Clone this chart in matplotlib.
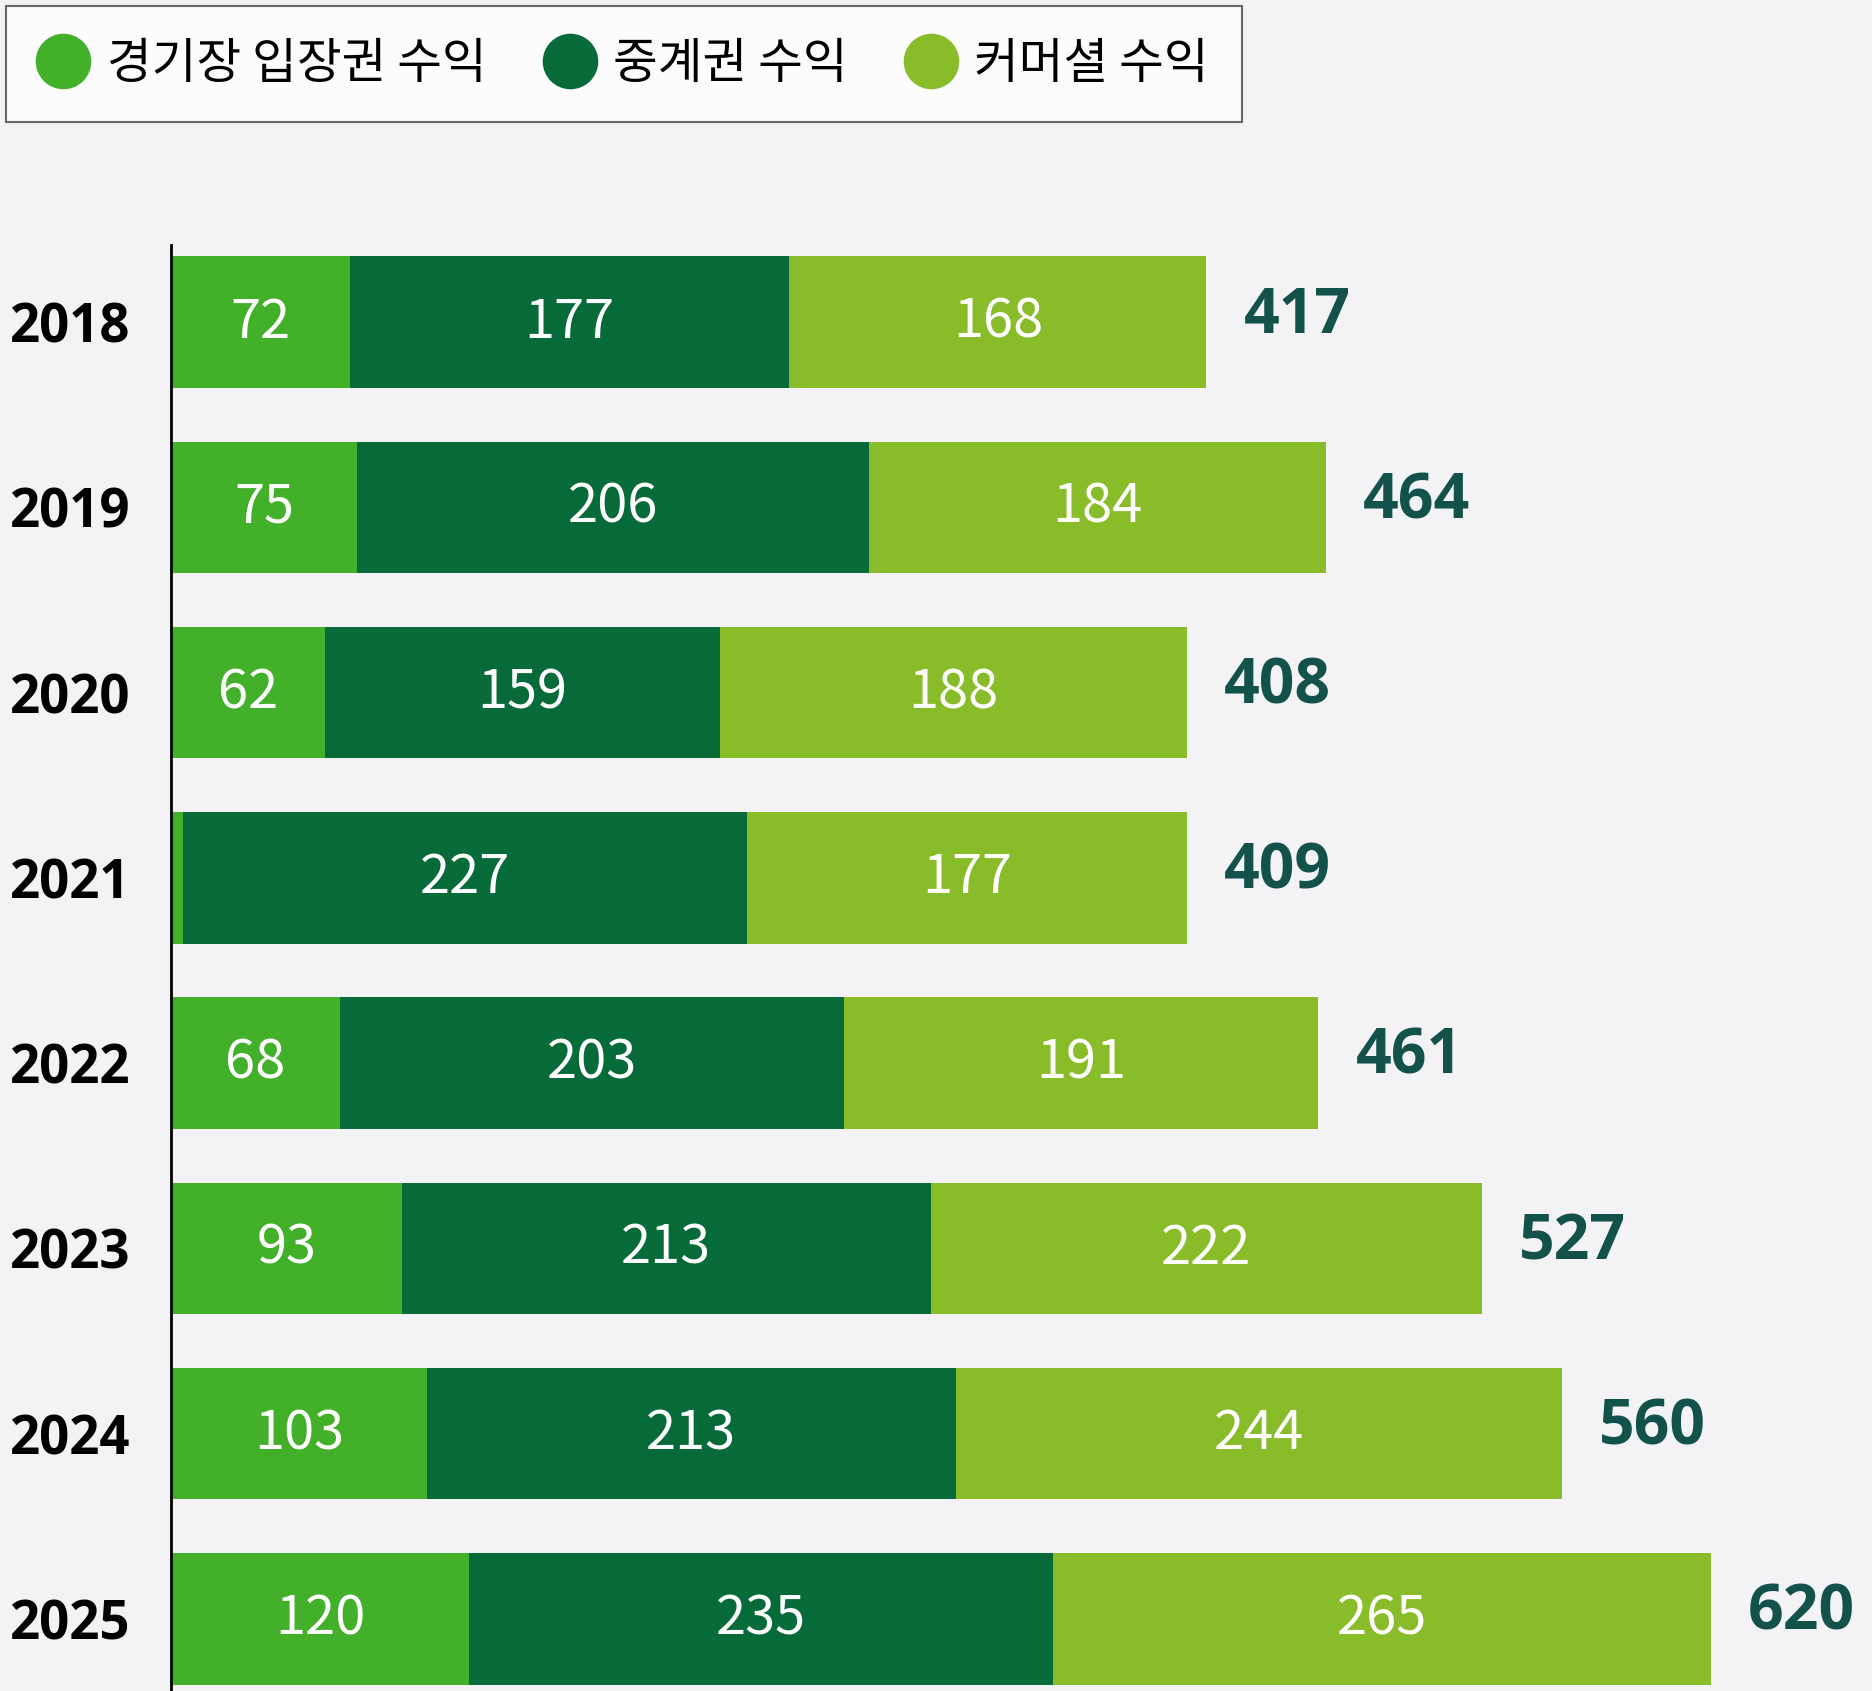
import matplotlib
matplotlib.use("Agg")
import matplotlib.pyplot as plt
from matplotlib.lines import Line2D

years = ["2018", "2019", "2020", "2021", "2022", "2023", "2024", "2025"]
stadium = [72, 75, 62, 5, 68, 93, 103, 120]
broadcast = [177, 206, 159, 227, 203, 213, 213, 235]
commercial = [168, 184, 188, 177, 191, 222, 244, 265]
totals = [417, 464, 408, 409, 461, 527, 560, 620]
series_names = ["경기장 입장권 수익", "중계권 수익", "커머셜 수익"]

colors = ["#43b02a", "#066b39", "#88bc29"]
bg = "#f3f3f5"
total_color = "#13524b"

FAM = ['Noto Sans CJK KR', 'DejaVu Sans']
NUM = ['Open Sans', 'Noto Sans CJK KR', 'DejaVu Sans']
plt.rcParams['font.family'] = FAM

W, H = 1872, 1691
fig = plt.figure(figsize=(W / 100, H / 100), dpi=100, facecolor=bg)
ax_left = 171 / W
ax_top = 245 / H
ax = fig.add_axes([ax_left, 0, 1 - ax_left, 1 - ax_top])
ax.set_facecolor(bg)

y = list(range(len(years)))
bar_h = 0.71
lefts = [0] * len(years)
for vals, c in zip([stadium, broadcast, commercial], colors):
    ax.barh(y, vals, left=lefts, height=bar_h, color=c, edgecolor="none")
    for yi, v, l in zip(y, vals, lefts):
        if v >= 20:
            ax.text(l + v / 2, yi, str(v), ha="center", va="center",
                    color="white", fontsize=39, family=FAM, fontweight="normal")
    lefts = [l + v for l, v in zip(lefts, vals)]

for yi, end, t in zip(y, lefts, totals):
    ax.text(end + 15, yi - 0.03, str(t), ha="left", va="center", color=total_color,
            fontsize=45, fontweight="bold", family=NUM)

ax.set_xlim(0, 685)
ax.set_ylim(7.39, -0.416)
ax.set_yticks(y)
ax.set_yticklabels(years, fontsize=38, fontweight="bold", color="black", family=NUM)
ax.tick_params(axis="y", length=0, pad=29)
ax.set_xticks([])
for s in ["top", "right", "bottom"]:
    ax.spines[s].set_visible(False)
ax.spines["left"].set_color("black")
ax.spines["left"].set_linewidth(2)

handles = [Line2D([0], [0], marker="o", linestyle="none", markersize=40,
                  markerfacecolor=c, markeredgecolor="none") for c in colors]
leg = fig.legend(handles, series_names, loc="upper left",
                 bbox_to_anchor=(6 / W, 1 - 6 / H), borderaxespad=0, ncol=3,
                 frameon=True, fancybox=False, handletextpad=0.4,
                 columnspacing=1.2, borderpad=0.68, handlelength=1.0,
                 prop={'family': FAM, 'size': 35})
leg.get_frame().set_edgecolor("#444444")
leg.get_frame().set_linewidth(1.5)
leg.get_frame().set_facecolor("white")

fig.savefig("out.png", dpi=100, facecolor=bg)
